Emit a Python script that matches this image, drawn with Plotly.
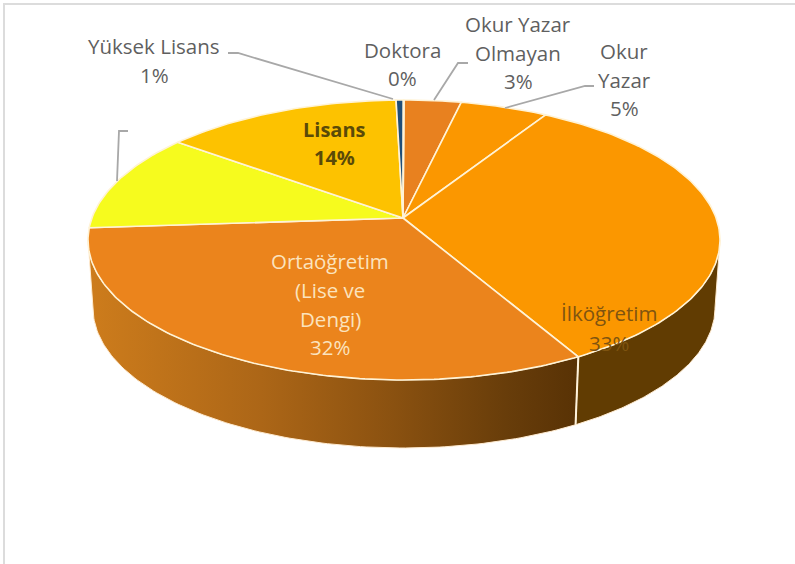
import numpy as np
import plotly.graph_objects as go

categories = ["Okur Yazar Olmayan", "Okur Yazar", "İlköğretim", "Ortaöğretim (Lise ve Dengi)",
              "Ön Lisans", "Lisans", "Yüksek Lisans", "Doktora"]
shares = [2.9, 4.5, 33.3, 35.7, 10.9, 12.3, 0.36, 0.04]
colors = ["#E8811F", "#FB9700", "#FB9700", "#EB841C", "#F6FB1E", "#FDC200", "#1F4E79", "#1F4E79"]

CX, CY, RX, RY = 404, 240, 316, 140      # top ellipse
APEX = (403, 218)                        # perspective apex
BCY, BRX, BRY = 308, 311, 140            # bottom ellipse


def top(phi):
    return CX + RX * np.sin(phi), CY - RY * np.cos(phi)


def bottom(phi):
    return CX + BRX * np.sin(phi), BCY - BRY * np.cos(phi)


edges = np.radians(np.concatenate([[0], np.cumsum(shares)]) / sum(shares) * 360)
fig = go.Figure()


def wall(a, b, **kw):
    p = np.linspace(a, b, 120)
    x1, y1 = top(p)
    x2, y2 = bottom(p[::-1])
    fig.add_trace(go.Scatter(x=np.r_[x1, x2, x1[0]], y=np.r_[y1, y2, y1[0]], mode="lines", fill="toself",
                             line=dict(color="#FFEBD0", width=1), hoverinfo="skip", showlegend=False, **kw))


# Side walls: the dark right part of İlköğretim and the shaded Ortaöğretim part
wall(np.radians(90), edges[3], fillcolor="#613C02")
wall(edges[3], np.radians(270), fillgradient=dict(
    type="horizontal", start=90, stop=580,
    colorscale=[[0, "#CD7C1C"], [0.35, "#AC6617"], [0.62, "#8A5110"], [0.85, "#683D0A"], [1, "#583205"]]))
# Cream seam on the wall between the two slices
sx1, sy1 = top(edges[3])
sx2, sy2 = bottom(edges[3])
fig.add_trace(go.Scatter(x=[sx1, sx2], y=[sy1, sy2], mode="lines", line=dict(color="#FFF3DC", width=2),
                         hoverinfo="skip", showlegend=False))

# Top faces
for name, a, b, c in zip(categories, edges[:-1], edges[1:], colors):
    p = np.linspace(a, b, max(3, int((b - a) * 60)))
    x, y = top(p)
    fig.add_trace(go.Scatter(x=np.r_[APEX[0], x, APEX[0]], y=np.r_[APEX[1], y, APEX[1]], name=name, mode="lines",
                             fill="toself", fillcolor=c, line=dict(color="#FFF3D6", width=1.6),
                             hoverinfo="skip", showlegend=False))

# Text: lines, centre x, line y, colour, bold
GREY = "#5F5F5F"
label_text = [
    (["Yüksek Lisans", "1%"], 154, [46, 75], GREY, False),
    (["Doktora", "0%"], 402, [50, 78], GREY, False),
    (["Okur Yazar", "Olmayan", "3%"], 518, [24, 53, 81], GREY, False),
    (["Okur", "Yazar", "5%"], 624, [51, 80, 108], GREY, False),
    (["Lisans", "14%"], 334, [129, 157], "#5A4A08", True),
    (["Ortaöğretim", "(Lise ve", "Dengi)", "32%"], 330, [261, 290, 319, 347], "#FBE3BE", False),
    (["İlköğretim", "33%"], 609, [313, 343], "#7F5410", False),
]
annotations = []
for lines, x, ys, col, bold in label_text:
    for line, y in zip(lines, ys):
        annotations.append(dict(x=x, y=y, text=f"<b>{line}</b>" if bold else line, showarrow=False,
                                xanchor="center", yanchor="middle",
                                font=dict(family="Open Sans", size=20.5 if not bold else 20, color=col)))

leaders = ["M228,53 L238,53 L393,99", "M468,63 L458,63 L434,100", "M594,86 L585,86 L505,108",
           "M128,131 L119,131 L117,181"]
shapes = [dict(type="path", path=d, line=dict(color="#A8A8A8", width=1.8), layer="above") for d in leaders]
shapes.append(dict(type="path", path="M4,564 L4,4 L795,4", line=dict(color="#DCDCDC", width=2), layer="below"))

fig.update_layout(
    width=795, height=564, margin=dict(l=0, r=0, t=0, b=0),
    paper_bgcolor="white", plot_bgcolor="white",
    xaxis=dict(range=[0, 795], visible=False, fixedrange=True),
    yaxis=dict(range=[564, 0], visible=False, fixedrange=True),
    annotations=annotations, shapes=shapes, showlegend=False,
)
fig.write_html("out.html", config=dict(displayModeBar=False),
               post_script="document.body.style.margin='0';")
